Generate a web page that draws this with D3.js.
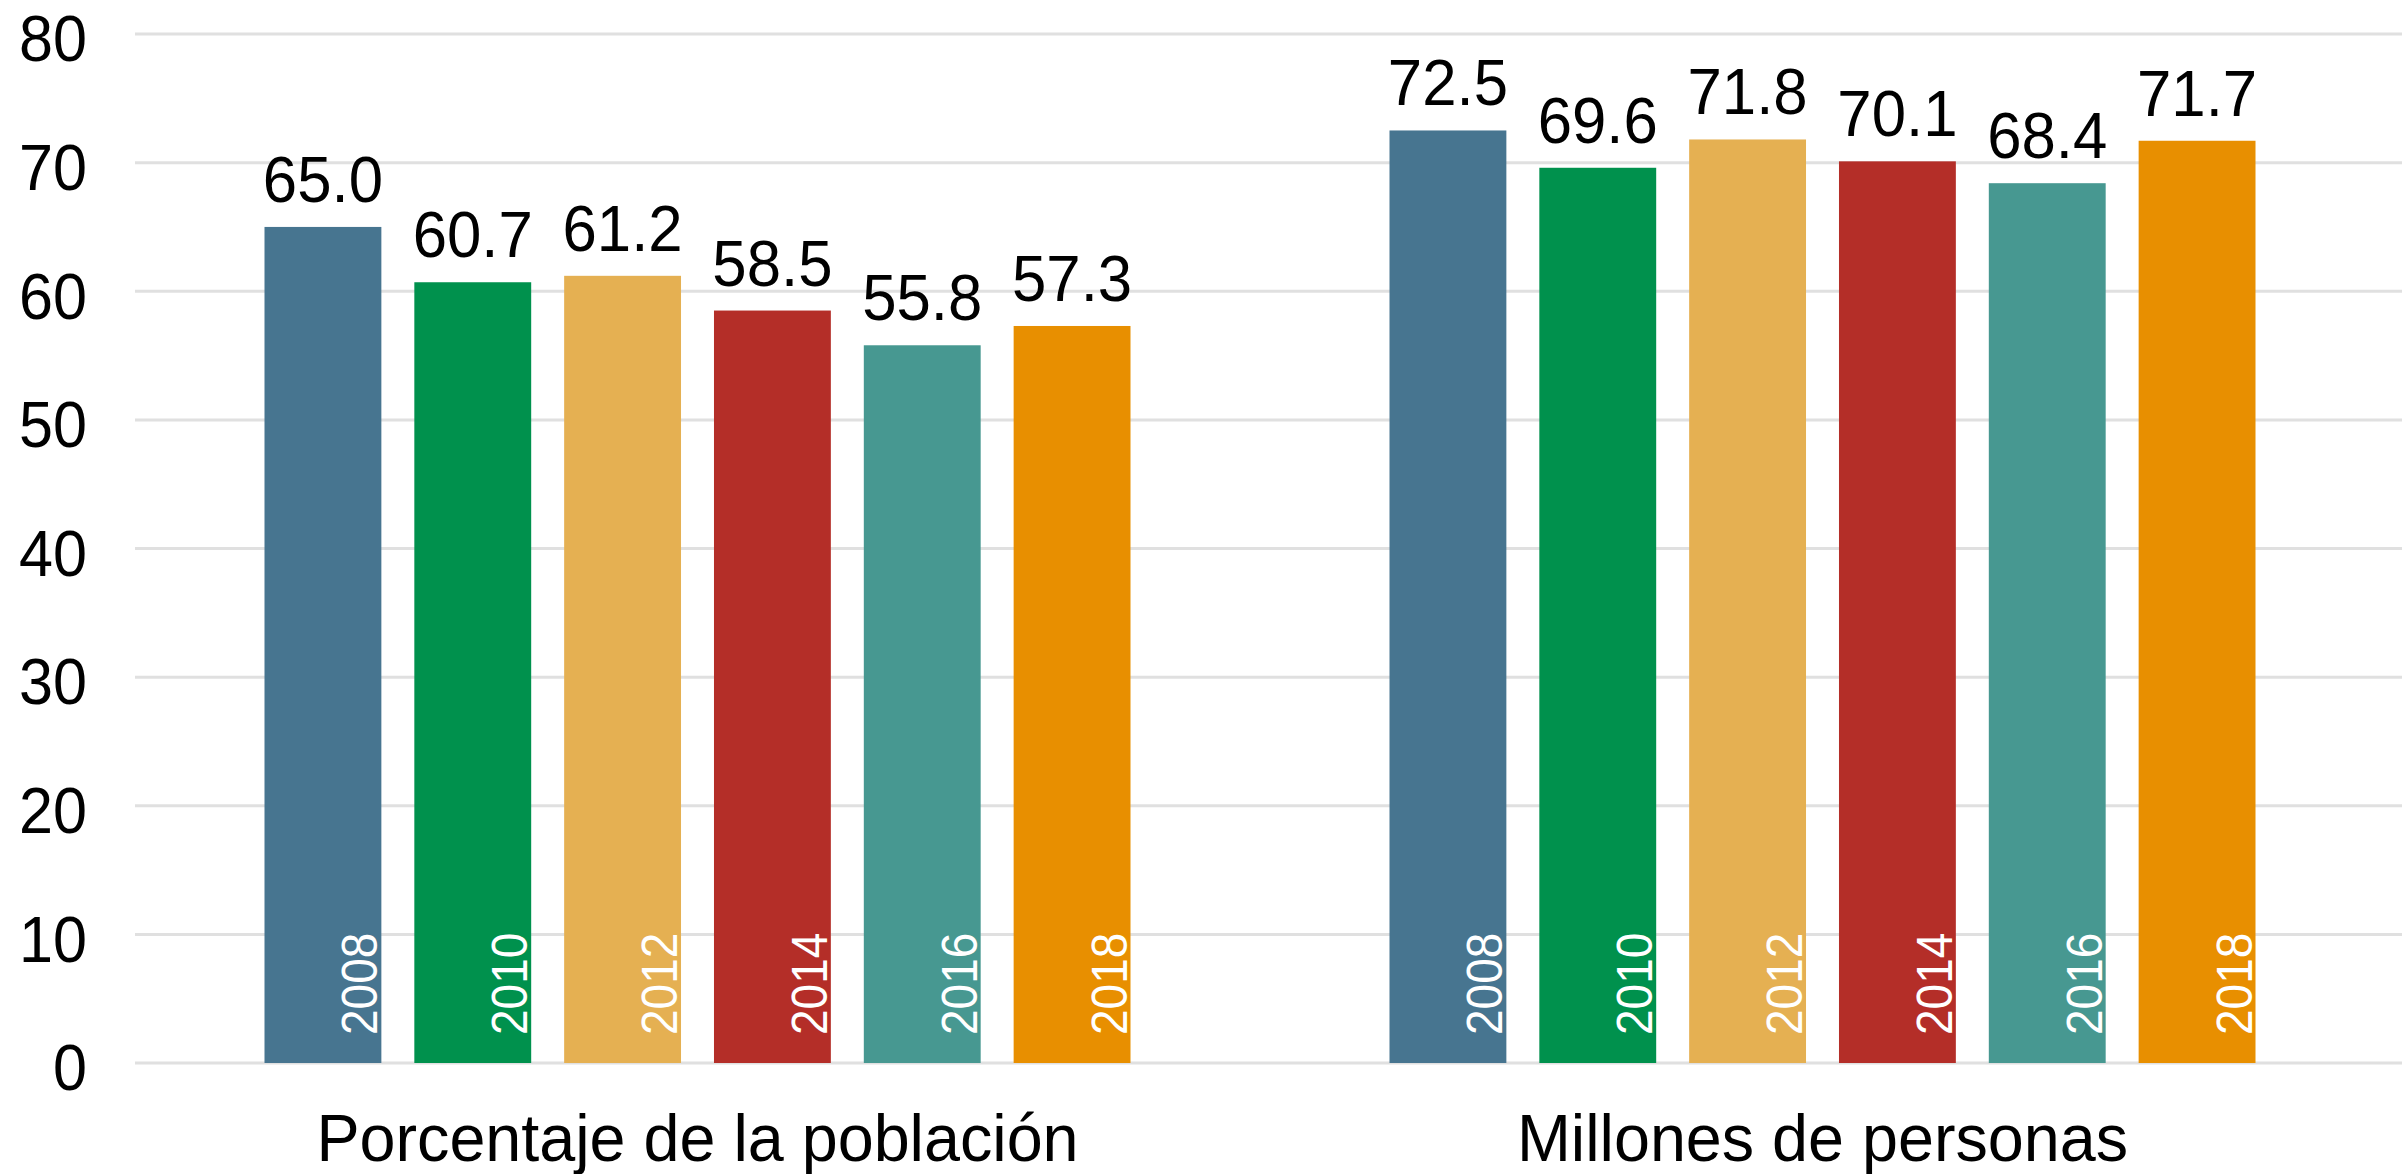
<!DOCTYPE html>
<html><head><meta charset="utf-8">
<script src="https://cdn.jsdelivr.net/npm/d3@7"></script>
<style>html,body{margin:0;padding:0;background:#fff;}svg{display:block;}</style>
</head><body>
<svg id="chart" width="2402" height="1174"></svg>
<script>
const groups = ["Porcentaje de la población", "Millones de personas"];
const years = ["2008", "2010", "2012", "2014", "2016", "2018"];
const porcentaje = [65.0, 60.7, 61.2, 58.5, 55.8, 57.3];
const millones = [72.5, 69.6, 71.8, 70.1, 68.4, 71.7];
const yTicks = [0, 10, 20, 30, 40, 50, 60, 70, 80];
const colors = ["#477590", "#00914D", "#E5B052", "#B42E28", "#479891", "#E88F00"];
const seriesByGroup = [porcentaje, millones];

const svg = d3.select("#chart");
const font = "'Liberation Sans', Arial, Helvetica, sans-serif";

const y = d3.scaleLinear().domain([0, 80]).range([1063, 34]);
const x0 = d3.scaleBand().domain(groups).range([135, 2385]);
const innerW = 866;
const x1 = d3.scaleBand().domain(years).range([0, innerW]).paddingInner(0.22).paddingOuter(0);
const color = d3.scaleOrdinal().domain(years).range(colors);

// gridlines
svg.append("g").selectAll("line").data(yTicks).join("line")
  .attr("x1", 135).attr("x2", 2402)
  .attr("y1", d => y(d)).attr("y2", d => y(d))
  .attr("stroke", "#e0e0e0").attr("stroke-width", 3);

// y axis labels
const yAxis = d3.axisLeft(y).tickValues(yTicks).tickSize(0).tickPadding(0).tickFormat(d3.format("d"));
const ya = svg.append("g").attr("transform", "translate(87,4)").call(yAxis);
ya.select(".domain").remove();
ya.selectAll(".tick").each(function() {
  const t = d3.select(this);
  const tr = t.attr("transform");
  t.attr("transform", tr + " scale(0.94,1)");
});
ya.selectAll("text").attr("font-family", font).attr("font-size", 65).attr("fill", "#000").attr("dy", "0.35em");

// groups
const g = svg.append("g").selectAll("g").data(groups).join("g")
  .attr("transform", d => `translate(${x0(d) + x0.bandwidth()/2 - innerW/2},0)`);

g.each(function(grp, gi) {
  const sel = d3.select(this);
  const data = years.map((yr, i) => ({yr, v: seriesByGroup[gi][i]}));
  sel.selectAll("rect").data(data).join("rect")
    .attr("x", d => x1(d.yr)).attr("width", x1.bandwidth())
    .attr("y", d => y(d.v)).attr("height", d => y(0) - y(d.v))
    .attr("fill", d => color(d.yr));
  sel.selectAll("text.val").data(data).join("text").attr("class", "val")
    .attr("transform", d => `translate(${x1(d.yr) + x1.bandwidth()/2},${y(d.v) - 25}) scale(0.95,1)`)
    .attr("text-anchor", "middle").attr("font-family", font).attr("font-size", 65).attr("fill", "#000")
    .text(d => d.v.toFixed(1));
  sel.selectAll("text.yr").data(data).join("text").attr("class", "yr")
    .attr("transform", d => `translate(${x1(d.yr) + x1.bandwidth() - 4},${y(0) - 28}) rotate(-90) scale(0.92,1)`)
    .attr("text-anchor", "start").attr("font-family", font).attr("font-size", 50).attr("fill", "#fff")
    .text(d => d.yr);
});

// group labels
svg.append("g").selectAll("text").data(groups).join("text")
  .attr("transform", d => `translate(${x0(d) + x0.bandwidth()/2},1161) scale(0.98,1)`)
  .attr("text-anchor", "middle").attr("font-family", font).attr("font-size", 66).attr("fill", "#000")
  .text(d => d);
</script>
</body></html>
